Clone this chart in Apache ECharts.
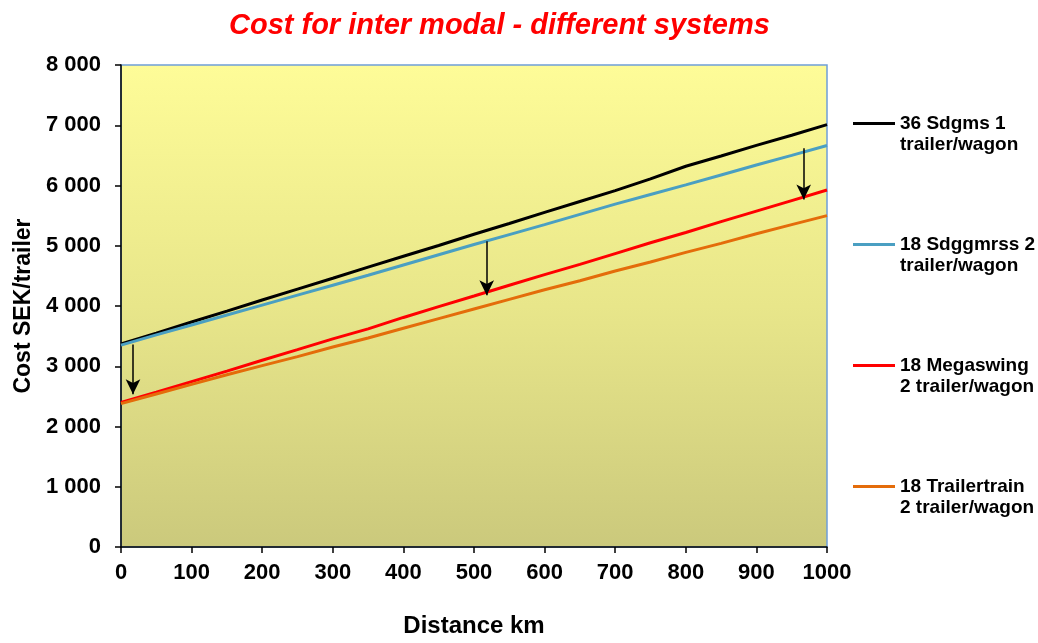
<!DOCTYPE html>
<html>
<head>
<meta charset="utf-8">
<script src="https://cdn.jsdelivr.net/npm/echarts@6/dist/echarts.min.js"></script>
<style>html,body{margin:0;padding:0;background:#fff;}#chart{width:1038px;height:643px;}</style>
</head>
<body>
<div id="chart"></div>
<script>
// Distance (km)
const distances = [0,50,100,150,200,250,300,350,400,450,500,550,600,650,700,750,800,850,900,950,1000];
// Cost SEK/trailer per system
const sdgms36 = [3370,3550,3735,3915,4100,4280,4460,4645,4825,5005,5190,5370,5555,5735,5915,6110,6320,6490,6665,6835,7010];
const sdggmrss18 = [3350,3520,3685,3850,4015,4180,4345,4510,4680,4850,5020,5185,5350,5520,5690,5850,6010,6175,6340,6500,6665];
const megaswing18 = [2400,2570,2745,2920,3100,3275,3455,3620,3810,3990,4165,4345,4520,4690,4870,5050,5220,5400,5575,5750,5925];
const trailertrain18 = [2380,2540,2700,2860,3010,3160,3320,3470,3630,3790,3950,4110,4270,4420,4580,4730,4890,5040,5200,5350,5500];
const seriesNames = ['36 Sdgms 1\ntrailer/wagon','18 Sdggmrss 2\ntrailer/wagon','18 Megaswing\n2 trailer/wagon','18 Trailertrain\n2 trailer/wagon'];
// Arrows: [x, fromY, toY]
const arrows = [[17,3360,2535],[518,5075,4180],[967,6617,5766]];
const titleText = 'Cost for inter modal - different systems';
const xAxisName = 'Distance km';
const yAxisName = 'Cost SEK/trailer';

const colors = ['#000000','#4A9FC2','#FF0000','#E46C0A'];
const seriesData = [sdgms36, sdggmrss18, megaswing18, trailertrain18];

const chart = echarts.init(document.getElementById('chart'));
const font = 'Liberation Sans, Arial, sans-serif';

const series = seriesData.map((vals, i) => ({
  name: seriesNames[i],
  type: 'line',
  data: distances.map((d, j) => [d, vals[j]]),
  showSymbol: false,
  symbol: 'none',
  lineStyle: { width: 3, color: colors[i] },
  itemStyle: { color: colors[i] },
  z: 3
}));
series[0].markLine = {
  silent: true,
  symbol: ['none','arrow'],
  symbolSize: [11, 15],
  label: { show: false },
  lineStyle: { color: '#000', width: 1.5, type: 'solid' },
  emphasis: { disabled: true },
  data: arrows.map(a => [{ coord: [a[0], a[1]] }, { coord: [a[0], a[2]] }])
};

chart.setOption({
  animation: false,
  title: {
    text: titleText,
    left: 224,
    top: 6,
    textStyle: { color: '#FF0000', fontSize: 29, fontWeight: 'bold', fontStyle: 'italic', fontFamily: font }
  },
  grid: {
    left: 121, right: 211, top: 65, bottom: 89,
    show: true,
    borderColor: '#6F9FD8',
    borderWidth: 1.5,
    backgroundColor: new echarts.graphic.LinearGradient(0, 0, 0, 1, [
      { offset: 0, color: '#FEFC98' },
      { offset: 0.5, color: '#E8E68A' },
      { offset: 1, color: '#CBC97C' }
    ])
  },
  legend: {
    orient: 'vertical',
    left: 853,
    top: 92,
    padding: 0,
    itemWidth: 42,
    itemHeight: 14,
    itemGap: 58,
    icon: 'path://M0,6 L42,6 L42,9 L0,9 Z',
    formatter: name => '\n' + name,
    textStyle: { fontSize: 19, fontWeight: 'bold', fontFamily: font, color: '#000', lineHeight: 21 },
    data: seriesNames
  },
  xAxis: {
    type: 'value',
    min: 0, max: 1000, interval: 100,
    name: xAxisName,
    nameLocation: 'middle',
    nameGap: 67,
    nameTextStyle: { fontSize: 24, fontWeight: 'bold', fontFamily: font, color: '#000' },
    axisLine: { show: true, lineStyle: { color: '#000', width: 1.5 } },
    axisTick: { show: true, inside: false, length: 6, lineStyle: { color: '#000', width: 1.5 } },
    axisLabel: { fontSize: 22, fontWeight: 'bold', fontFamily: font, color: '#000', margin: 15, formatter: v => String(v) },
    splitLine: { show: false }
  },
  yAxis: {
    type: 'value',
    min: 0, max: 8000, interval: 1000,
    name: yAxisName,
    nameLocation: 'middle',
    nameRotate: 90,
    nameGap: 84,
    nameTextStyle: { fontSize: 23, fontWeight: 'bold', fontFamily: font, color: '#000' },
    axisLine: { show: true, lineStyle: { color: '#000', width: 1.5 } },
    axisTick: { show: true, inside: false, length: 6, lineStyle: { color: '#000', width: 1.5 } },
    axisLabel: {
      fontSize: 22, fontWeight: 'bold', fontFamily: font, color: '#000', margin: 20,
      formatter: v => String(v).replace(/\B(?=(\d{3})+(?!\d))/g, ' ')
    },
    splitLine: { show: false }
  },
  series: series
});
</script>
</body>
</html>
